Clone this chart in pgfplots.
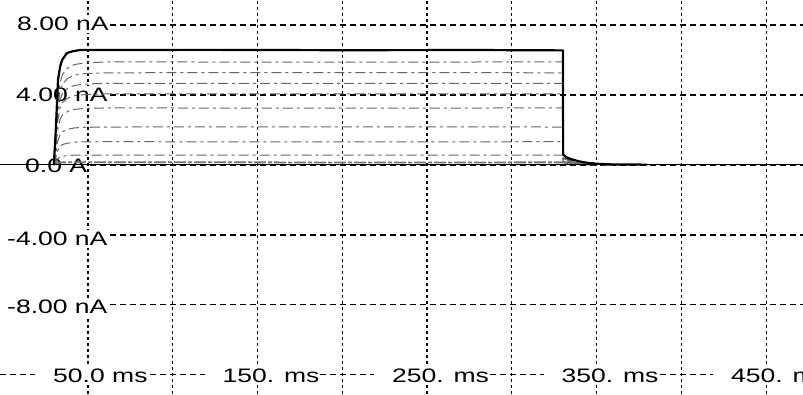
\documentclass[border=0pt]{standalone}
\usepackage{pgfplots}
\pgfplotsset{compat=1.18}
\usepackage{fontspec}
\setmainfont{Liberation Sans}
\newcommand{\lab}[1]{\scalebox{1.36}[1]{\fontsize{19.5}{20}\selectfont #1}}
\begin{document}
\begin{tikzpicture}
\begin{axis}[
  width=803pt, height=394pt, scale only axis,
  xmin=-1.92, xmax=471.8, ymin=-13.09, ymax=9.43,
  xtick={50,100,...,450}, ytick={-12,-8,-4,0,4,8},
  xticklabels={}, yticklabels={},
  major tick length=0pt,
  axis line style={draw=none},
  grid=major,
  x grid style={black, line width=1.1pt, dash pattern=on 3pt off 3pt},
  y grid style={black, line width=1.1pt, dash pattern=on 5.5pt off 4.5pt},
  clip=false,
]
% labels with white background
\node[fill=white, inner sep=0pt, minimum height=18pt, anchor=west] at (rel axis cs:0,0.9391) {\hspace{17pt}\lab{8.00 nA}};
\node[fill=white, inner sep=0pt, minimum height=18pt, anchor=west] at (rel axis cs:0,0.7589) {\hspace{16pt}\lab{4.00 nA}};
\node[fill=white, inner sep=0pt, minimum height=18pt, anchor=west] at (rel axis cs:0,0.5787) {\hspace{25pt}\lab{0.0 A}};
\node[fill=white, inner sep=0pt, minimum height=18pt, anchor=west] at (rel axis cs:0,0.3934) {\hspace{7pt}\lab{-4.00 nA}};
\node[fill=white, inner sep=0pt, minimum height=18pt, anchor=west] at (rel axis cs:0,0.2208) {\hspace{7pt}\lab{-8.00 nA}};
\node[fill=white, inner sep=0pt, minimum height=18pt, anchor=west] at (rel axis cs:0.04359,0.04569) {\hspace{18pt}\lab{50.0 ms}};
\node[fill=white, inner sep=0pt, minimum height=18pt, anchor=west] at (rel axis cs:0.25467,0.04569) {\hspace{18pt}\lab{150. ms}};
\node[fill=white, inner sep=0pt, minimum height=18pt, anchor=west] at (rel axis cs:0.46575,0.04569) {\hspace{18pt}\lab{250. ms}};
\node[fill=white, inner sep=0pt, minimum height=18pt, anchor=west] at (rel axis cs:0.67684,0.04569) {\hspace{18pt}\lab{350. ms}};
\node[fill=white, inner sep=0pt, minimum height=18pt, anchor=west] at (rel axis cs:0.88792,0.04569) {\hspace{18pt}\lab{450. ms}};

% gray traces
\pgfplotsset{gtr/.style={black!60, line width=1pt, dash pattern=on 10pt off 4pt on 3pt off 4pt}}
\addplot[gtr] coordinates {(29.8,0) (30.2,0.29) (31,1.77) (32,3.53) (33.5,4.71) (35,5.18) (38,5.54) (42,5.74) (48,5.83) (60,5.89) (200,5.88) (330.2,5.89) (330.3,0.53) (335,0.29) (345,0.12) (360,0)};
\addplot[gtr] coordinates {(29.8,0) (30.2,0.26) (31,1.58) (32,3.16) (33.5,4.22) (35,4.64) (38,4.95) (42,5.14) (48,5.22) (60,5.27) (200,5.28) (330.2,5.27) (330.3,0.47) (335,0.26) (345,0.11) (360,0)};
\addplot[gtr] coordinates {(29.8,0) (30.2,0.23) (31,1.40) (32,2.80) (33.5,3.74) (35,4.11) (38,4.39) (42,4.55) (48,4.62) (60,4.67) (200,4.66) (330.2,4.67) (330.3,0.42) (335,0.23) (345,0.09) (360,0)};
\addplot[gtr] coordinates {(29.8,0) (30.2,0.20) (31,1.22) (32,2.44) (33.5,3.25) (35,3.57) (38,3.82) (42,3.96) (48,4.02) (60,4.06) (200,4.07) (330.2,4.06) (330.3,0.37) (335,0.20) (345,0.08) (360,0)};
\addplot[gtr] coordinates {(29.8,0) (30.2,0.16) (31,0.98) (32,1.96) (33.5,2.61) (35,2.87) (38,3.06) (42,3.18) (48,3.23) (60,3.26) (200,3.25) (330.2,3.26) (330.3,0.29) (335,0.16) (345,0.07) (360,0)};
\addplot[gtr] coordinates {(29.8,0) (30.2,0.11) (31,0.65) (32,1.30) (33.5,1.74) (35,1.91) (38,2.04) (42,2.12) (48,2.15) (60,2.17) (200,2.18) (330.2,2.17) (330.3,0.20) (335,0.11) (345,0.04) (360,0)};
\addplot[gtr] coordinates {(29.8,0) (30.2,0.07) (31,0.40) (32,0.80) (33.5,1.06) (35,1.17) (38,1.25) (42,1.30) (48,1.32) (60,1.33) (200,1.32) (330.2,1.33) (330.3,0.12) (335,0.07) (345,0.03) (360,0)};
\addplot[gtr] coordinates {(29.8,0) (30.2,0.03) (31,0.17) (32,0.34) (33.5,0.46) (35,0.50) (38,0.54) (42,0.56) (48,0.56) (60,0.57) (200,0.57) (330.2,0.57) (330.3,0.05) (335,0.03) (345,0.01) (360,0)};
\addplot[black!55, line width=1.8pt, dash pattern=on 12pt off 2pt on 4pt off 2pt] coordinates {(30,0.1) (35,0.15) (100,0.16) (200,0.14) (330.2,0.15) (340,0.05)};
% baseline
\addplot[black, line width=1.6pt] coordinates {(-1.92,0.02) (30,0.02) (330,0.02) (471.8,0.02)};
% top trace
\addplot[black, line width=2.2pt, line join=round] coordinates {(29.8,0) (30.0,0.3) (31,2.0) (32.3,4.86) (33.5,5.6) (34.7,6.0) (37.6,6.4) (41,6.5) (45.3,6.57) (120,6.58) (200,6.56) (280,6.57) (330.2,6.55) (330.3,0.6) (332,0.45) (335,0.33) (340,0.2) (345,0.12) (350,0.07) (360,0.03) (380,0.02)};
\end{axis}
\pgfresetboundingbox
\useasboundingbox (current axis.south west) rectangle (current axis.north east);
\end{tikzpicture}
\end{document}
